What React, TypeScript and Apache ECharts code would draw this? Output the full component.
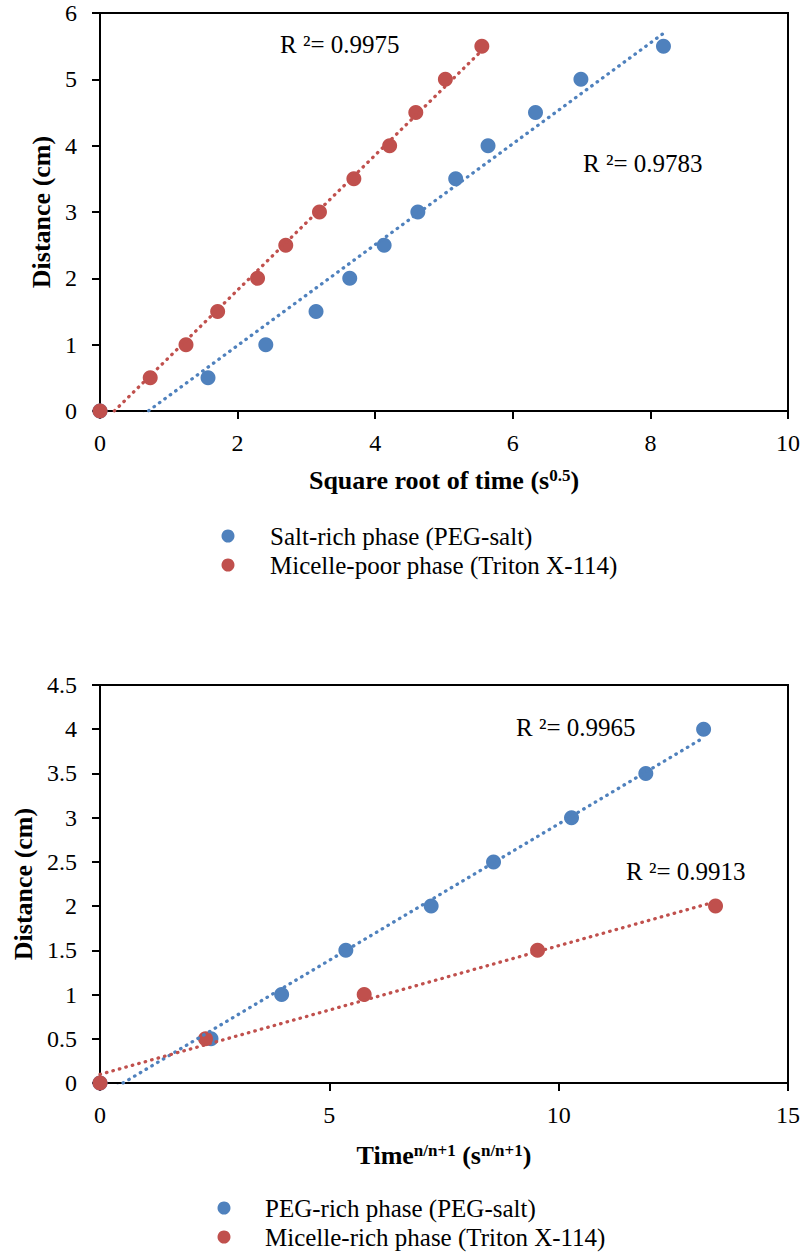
import React, { useEffect, useRef } from 'react';
import * as echarts from 'echarts';

const BLUE = '#4F81BD';
const RED = '#C0504D';
const FONT = 'Liberation Serif';

// ---- data ----
const topY = [0, 0.5, 1, 1.5, 2, 2.5, 3, 3.5, 4, 4.5, 5, 5.5];
const topBlueX = [0, 1.57, 2.41, 3.14, 3.63, 4.13, 4.62, 5.17, 5.64, 6.33, 6.99, 8.19];
const topRedX = [0, 0.73, 1.25, 1.71, 2.29, 2.7, 3.19, 3.69, 4.21, 4.59, 5.02, 5.55];

const bottomBlueY = [0, 0.5, 1, 1.5, 2, 2.5, 3, 3.5, 4];
const bottomBlueX = [0, 2.42, 3.96, 5.36, 7.22, 8.58, 10.28, 11.9, 13.16];
const bottomRedY = [0, 0.5, 1, 1.5, 2];
const bottomRedX = [0, 2.3, 5.76, 9.54, 13.42];

const topNames = ['Salt-rich phase (PEG-salt)', 'Micelle-poor phase (Triton X-114)'];
const bottomNames = ['PEG-rich phase (PEG-salt)', 'Micelle-rich phase (Triton X-114)'];
const topR2 = ['R ²= 0.9783', 'R ²= 0.9975'];
const bottomR2 = ['R ²= 0.9965', 'R ²= 0.9913'];

const topXTicks = [0, 2, 4, 6, 8, 10];
const topYTicks = [0, 1, 2, 3, 4, 5, 6];
const bottomXTicks = [0, 5, 10, 15];
const bottomYTicks = [0, 0.5, 1, 1.5, 2, 2.5, 3, 3.5, 4, 4.5];

const yLabel = 'Distance (cm)';
const topXLabel = '{m|Square root of time (s}{s|0.5}{m|)}';
const bottomXLabel = '{m|Time}{s|n/n+1}{m| (s}{s|n/n+1}{m|)}';

function pairs(xs: number[], ys: number[]) {
  return xs.map((x, i) => [x, ys[i]]);
}

function trend(xs: number[], ys: number[]) {
  const n = xs.length;
  const mx = xs.reduce((a, b) => a + b, 0) / n;
  const my = ys.reduce((a, b) => a + b, 0) / n;
  let sxx = 0;
  let sxy = 0;
  for (let i = 0; i < n; i++) {
    sxx += (xs[i] - mx) * (xs[i] - mx);
    sxy += (xs[i] - mx) * (ys[i] - my);
  }
  const b = sxy / sxx;
  const a = my - b * mx;
  const x0 = Math.min(...xs);
  const x1 = Math.max(...xs);
  return [
    [x0, a + b * x0],
    [x1, a + b * x1],
  ];
}

function range(t: number[]) {
  return { min: t[0], max: t[t.length - 1], interval: t[1] - t[0] };
}

const axisLine = { show: true, onZero: false, lineStyle: { color: '#000', width: 2 } };
const axisTick = { show: true, inside: false, length: 8, lineStyle: { color: '#000', width: 2 } };
const tickLabel = { color: '#000', fontSize: 24, fontFamily: FONT };
const nameStyle = {
  color: '#000',
  fontFamily: FONT,
  fontSize: 26,
  fontWeight: 'bold' as const,
  rich: {
    m: { color: '#000', fontFamily: FONT, fontSize: 26, fontWeight: 'bold' as const },
    s: { color: '#000', fontFamily: FONT, fontSize: 17, fontWeight: 'bold' as const, verticalAlign: 'top' as const },
  },
};

function scatter(name: string, data: number[][], color: string, idx: number) {
  return {
    name,
    type: 'scatter',
    xAxisIndex: idx,
    yAxisIndex: idx,
    data,
    symbol: 'circle',
    symbolSize: 15,
    itemStyle: { color, opacity: 1 },
    z: 3,
  };
}

function trendSeries(name: string, data: number[][], color: string, idx: number) {
  return {
    name,
    type: 'line',
    xAxisIndex: idx,
    yAxisIndex: idx,
    data,
    showSymbol: false,
    symbol: 'none',
    silent: true,
    clip: true,
    lineStyle: { color, width: 3.3, type: [0.5, 6.2], cap: 'round', opacity: 1 },
    z: 4,
  };
}

function r2Text(text: string, x: number, y: number) {
  return {
    type: 'text',
    x,
    y,
    silent: true,
    style: {
      text,
      fill: '#000',
      fontSize: 25,
      fontFamily: FONT,
      textAlign: 'left',
      verticalAlign: 'middle',
      textVerticalAlign: 'middle',
    },
  };
}

function legend(names: string[], left: number, top: number, pad: number) {
  return {
    data: names,
    orient: 'vertical',
    left,
    top,
    padding: 0,
    icon: 'circle',
    itemWidth: 13,
    itemHeight: 13,
    itemGap: 2,
    selectedMode: false,
    itemStyle: { opacity: 1 },
    textStyle: { color: '#000', fontSize: 25, fontFamily: FONT, lineHeight: 27, padding: [0, 0, 0, pad] },
  };
}

export default function App() {
  const ref = useRef<HTMLDivElement>(null);

  useEffect(() => {
    if (!ref.current) return;
    const chart = echarts.init(ref.current, undefined, { renderer: 'svg' });
    const gridBase = { left: 100, width: 688, height: 398, show: true, borderColor: '#000', borderWidth: 2, backgroundColor: 'transparent' };
    const option: any = {
      animation: false,
      backgroundColor: '#fff',
      textStyle: { fontFamily: FONT },
      grid: [
        { ...gridBase, top: 13 },
        { ...gridBase, top: 685 },
      ],
      xAxis: [
        {
          gridIndex: 0,
          type: 'value',
          ...range(topXTicks),
          axisLine,
          axisTick,
          splitLine: { show: false },
          axisLabel: { ...tickLabel, margin: 20 },
          name: topXLabel,
          nameLocation: 'middle',
          nameGap: 56,
          nameTextStyle: nameStyle,
        },
        {
          gridIndex: 1,
          type: 'value',
          ...range(bottomXTicks),
          axisLine,
          axisTick,
          splitLine: { show: false },
          axisLabel: { ...tickLabel, margin: 20 },
          name: bottomXLabel,
          nameLocation: 'middle',
          nameGap: 59,
          nameTextStyle: nameStyle,
        },
      ],
      yAxis: [
        {
          gridIndex: 0,
          type: 'value',
          ...range(topYTicks),
          axisLine,
          axisTick,
          splitLine: { show: false },
          axisLabel: { ...tickLabel, margin: 23 },
          name: yLabel,
          nameLocation: 'middle',
          nameRotate: 90,
          nameGap: 44,
          nameTextStyle: nameStyle,
        },
        {
          gridIndex: 1,
          type: 'value',
          ...range(bottomYTicks),
          axisLine,
          axisTick,
          splitLine: { show: false },
          axisLabel: { ...tickLabel, margin: 23 },
          name: yLabel,
          nameLocation: 'middle',
          nameRotate: 90,
          nameGap: 64,
          nameTextStyle: nameStyle,
        },
      ],
      legend: [legend(topNames, 221.5, 522.5, 30.5), legend(bottomNames, 217.5, 1194.5, 29.5)],
      series: [
        scatter(topNames[0], pairs(topBlueX, topY), BLUE, 0),
        scatter(topNames[1], pairs(topRedX, topY), RED, 0),
        trendSeries('Linear (top blue)', trend(topBlueX, topY), BLUE, 0),
        trendSeries('Linear (top red)', trend(topRedX, topY), RED, 0),
        scatter(bottomNames[0], pairs(bottomBlueX, bottomBlueY), BLUE, 1),
        scatter(bottomNames[1], pairs(bottomRedX, bottomRedY), RED, 1),
        trendSeries('Linear (bottom blue)', trend(bottomBlueX, bottomBlueY), BLUE, 1),
        trendSeries('Linear (bottom red)', trend(bottomRedX, bottomRedY), RED, 1),
      ],
      graphic: [
        r2Text(topR2[1], 280, 44),
        r2Text(topR2[0], 583, 163),
        r2Text(bottomR2[0], 516, 727),
        r2Text(bottomR2[1], 626, 871),
      ],
    };
    chart.setOption(option);
    return () => chart.dispose();
  }, []);

  return (
    <div
      ref={ref}
      style={{ position: 'absolute', left: 0, top: 0, width: 804, height: 1253, background: '#fff' }}
    />
  );
}
